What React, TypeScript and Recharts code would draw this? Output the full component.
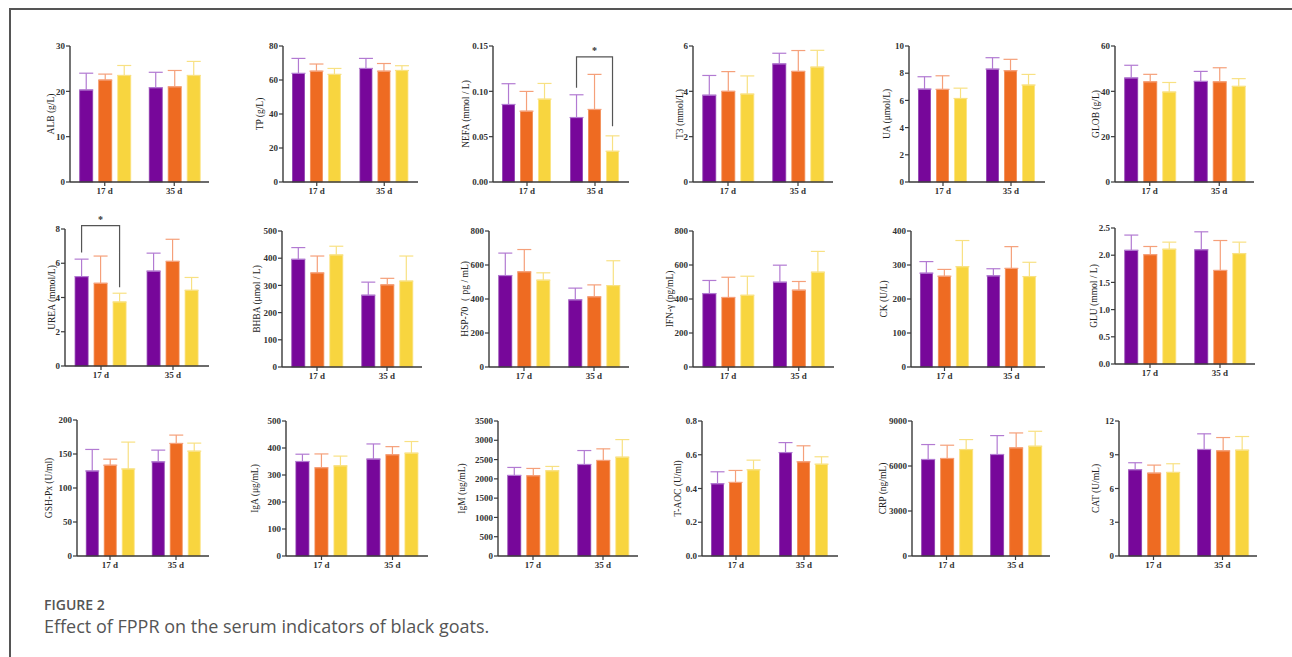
import React from "react";
import { Bar, BarChart, ErrorBar, XAxis, YAxis } from "recharts";

// Sampling days on the x axis
const DAYS = ["17 d", "35 d"];

// Values are [17 d: A, B, C, 35 d: A, B, C]; *_SD is the upper error (SD)
const ALB = [20.3, 22.5, 23.5, 20.8, 21.0, 23.5];
const ALB_SD = [3.7, 1.3, 2.2, 3.4, 3.6, 3.1];
const TP = [63.9, 65.2, 63.3, 66.8, 65.2, 65.6];
const TP_SD = [8.8, 4.2, 3.5, 5.9, 4.5, 2.8];
const NEFA = [0.0855, 0.0781, 0.0914, 0.0711, 0.08, 0.0339];
const NEFA_SD = [0.0229, 0.0218, 0.0173, 0.0251, 0.0387, 0.017];
const T3 = [3.83, 4.0, 3.88, 5.21, 4.88, 5.07];
const T3_SD = [0.87, 0.87, 0.8, 0.47, 0.92, 0.74];
const UA = [6.83, 6.81, 6.14, 8.3, 8.18, 7.13];
const UA_SD = [0.91, 1.0, 0.76, 0.84, 0.84, 0.78];
const GLOB = [45.9, 44.2, 39.7, 44.4, 44.2, 42.2];
const GLOB_SD = [5.6, 3.3, 4.2, 4.4, 6.2, 3.4];
const UREA = [5.22, 4.83, 3.74, 5.54, 6.11, 4.42];
const UREA_SD = [1.02, 1.59, 0.51, 1.05, 1.29, 0.75];
const BHBA = [396, 346, 412, 264, 302, 316];
const BHBA_SD = [43, 62, 32, 48, 24, 92];
const HSP70 = [538, 560, 511, 395, 413, 479];
const HSP70_SD = [132, 131, 43, 69, 70, 146];
const IFN = [432, 409, 422, 499, 452, 558];
const IFN_SD = [77, 119, 112, 100, 51, 122];
const CK = [276, 267, 295, 268, 290, 266];
const CK_SD = [34, 20, 77, 21, 64, 42];
const GLU = [2.09, 2.01, 2.11, 2.1, 1.72, 2.03];
const GLU_SD = [0.28, 0.15, 0.13, 0.33, 0.55, 0.21];
const GSH = [125, 133.5, 128, 138.4, 165.5, 154.2];
const GSH_SD = [31.7, 8.9, 39.5, 17.3, 12.3, 11.8];
const IGA = [350, 327, 334, 359, 375, 381];
const IGA_SD = [27, 51, 36, 56, 30, 43];
const IGM = [2090, 2081, 2210, 2373, 2477, 2563];
const IGM_SD = [206, 189, 112, 361, 301, 455];
const TAOC = [0.428, 0.436, 0.511, 0.613, 0.558, 0.544];
const TAOC_SD = [0.071, 0.071, 0.057, 0.059, 0.095, 0.044];
const CRP = [6435, 6501, 7098, 6767, 7209, 7320];
const CRP_SD = [995, 885, 664, 1260, 995, 995];
const CAT = [7.67, 7.37, 7.43, 9.47, 9.35, 9.41];
const CAT_SD = [0.62, 0.71, 0.77, 1.39, 1.18, 1.21];

// significance brackets (A vs C): bracket height, left leg end, right leg end
const NEFA_SIG = { day: "35 d", top: 0.138, left: 0.104, right: 0.0616 };
const UREA_SIG = { day: "17 d", top: 8.2, left: 6.63, right: 4.6 };

const COLORS = ["#77079a", "#ee6b22", "#f8d53f"];
const EDGES = ["#9040b0", "#f38a52", "#fbe27e"];
const ERR_COLORS = ["#b27ad2", "#f5a07a", "#f8e183"];
const AXIS = "#3a3a3a";
const FONT = "'Liberation Serif', 'Times New Roman', serif";

const AXIS_W = 60;
const TOP_PAD = 22;
const X_H = 22;
const RIGHT_PAD = 4;
const BAR_GAP = 6;

type Sig = { day: string; top: number; left: number; right: number };
type Panel = {
  label: string;
  mean: number[];
  sd: number[];
  ticks: number[];
  digits: number;
  sig?: Sig;
};

const PANELS: Panel[] = [
  { label: "ALB  (g/L)", mean: ALB, sd: ALB_SD, ticks: [0, 10, 20, 30], digits: 0 },
  { label: "TP (g/L)", mean: TP, sd: TP_SD, ticks: [0, 20, 40, 60, 80], digits: 0 },
  { label: "NEFA (mmol / L)", mean: NEFA, sd: NEFA_SD, ticks: [0, 0.05, 0.1, 0.15], digits: 2, sig: NEFA_SIG },
  { label: "T3 (mmol/L)", mean: T3, sd: T3_SD, ticks: [0, 2, 4, 6], digits: 0 },
  { label: "UA (μmol/L)", mean: UA, sd: UA_SD, ticks: [0, 2, 4, 6, 8, 10], digits: 0 },
  { label: "GLOB  (g/L)", mean: GLOB, sd: GLOB_SD, ticks: [0, 20, 40, 60], digits: 0 },
  { label: "UREA (mmol/L)", mean: UREA, sd: UREA_SD, ticks: [0, 2, 4, 6, 8], digits: 0, sig: UREA_SIG },
  { label: "BHBA (μmol / L)", mean: BHBA, sd: BHBA_SD, ticks: [0, 100, 200, 300, 400, 500], digits: 0 },
  { label: "HSP-70（ pg / mL)", mean: HSP70, sd: HSP70_SD, ticks: [0, 200, 400, 600, 800], digits: 0 },
  { label: "IFN-γ (pg/mL)", mean: IFN, sd: IFN_SD, ticks: [0, 200, 400, 600, 800], digits: 0 },
  { label: "CK (U/L)", mean: CK, sd: CK_SD, ticks: [0, 100, 200, 300, 400], digits: 0 },
  { label: "GLU (mmol / L)", mean: GLU, sd: GLU_SD, ticks: [0, 0.5, 1, 1.5, 2, 2.5], digits: 1 },
  { label: "GSH-Px (U/ml)", mean: GSH, sd: GSH_SD, ticks: [0, 50, 100, 150, 200], digits: 0 },
  { label: "IgA (μg/mL)", mean: IGA, sd: IGA_SD, ticks: [0, 100, 200, 300, 400, 500], digits: 0 },
  { label: "IgM (ug/mL)", mean: IGM, sd: IGM_SD, ticks: [0, 500, 1000, 1500, 2000, 2500, 3000, 3500], digits: 0 },
  { label: "T-AOC (U/ml)", mean: TAOC, sd: TAOC_SD, ticks: [0, 0.2, 0.4, 0.6, 0.8], digits: 1 },
  { label: "CRP (ng/mL)", mean: CRP, sd: CRP_SD, ticks: [0, 3000, 6000, 9000], digits: 0 },
  { label: "CAT (U/mL)", mean: CAT, sd: CAT_SD, ticks: [0, 3, 6, 9, 12], digits: 0 },
];

// plot box per panel: [axis x, axis end x, top y, bottom y, y-label distance]
const BOXES = [
  [70, 209, 46, 182, 19], [283, 418, 46, 182, 23], [493, 629, 46, 182, 27],
  [693, 833, 46, 182, 13], [909, 1045, 46, 182, 22], [1115, 1254, 46, 182, 19],
  [65, 209, 229, 366, 13], [282, 422, 231, 367, 25], [489, 629, 231, 367, 24],
  [693, 834, 231, 367, 23], [911, 1045, 231, 367, 27], [1115, 1255, 228, 364, 21],
  [77, 209, 420, 556, 28], [286, 428, 421, 556, 31], [498, 638, 421, 556, 36],
  [702, 838, 421, 556, 24], [912, 1050, 421, 556, 29], [1119, 1257, 421, 556, 23],
];

const TICK = { fontFamily: FONT, fontSize: 9, fontWeight: 700, fill: "#333" };

// first series' bar shape; also draws the A-vs-C bracket on its day
function barWithBracket(sig?: Sig) {
  return (props: any) => {
    const { x, y, width, height, fill, payload } = props;
    const rect = (
      <rect x={x} y={y} width={width} height={height} fill={fill} stroke={EDGES[0]} strokeWidth={0.8} />
    );
    if (!sig || !payload || payload.day !== sig.day || !height) return rect;
    const base = y + height;
    const k = height / payload.a;
    const py = (v: number) => base - v * k;
    const lx = x + width / 2;
    const rx = lx + 2 * (width + BAR_GAP);
    return (
      <g>
        {rect}
        <path
          d={`M${lx},${py(sig.left)}V${py(sig.top)}H${rx}V${py(sig.right)}`}
          fill="none"
          stroke="#555"
          strokeWidth={1.2}
        />
        <text x={(lx + rx) / 2} y={py(sig.top) - 3} textAnchor="middle" fontFamily={FONT} fontSize={10} fontWeight={700} fill="#333">
          *
        </text>
      </g>
    );
  };
}

function SmallChart({ p, box }: { p: Panel; box: number[] }) {
  const [x0, x1, y0, y1, labelGap] = box;
  const w = AXIS_W + (x1 - x0) + RIGHT_PAD;
  const h = TOP_PAD + (y1 - y0) + X_H;
  const data = DAYS.map((day, i) => ({
    day,
    a: p.mean[i * 3],
    b: p.mean[i * 3 + 1],
    c: p.mean[i * 3 + 2],
    aErr: [0, p.sd[i * 3]],
    bErr: [0, p.sd[i * 3 + 1]],
    cErr: [0, p.sd[i * 3 + 2]],
  }));
  const max = p.ticks[p.ticks.length - 1];

  return (
    <div style={{ position: "absolute", left: x0 - AXIS_W, top: y0 - TOP_PAD }}>
      <BarChart
        width={w}
        height={h}
        data={data}
        margin={{ top: TOP_PAD, right: RIGHT_PAD, left: 0, bottom: 0 }}
        barCategoryGap="14%"
        barGap={BAR_GAP}
      >
        <XAxis
          dataKey="day"
          height={X_H}
          tick={TICK}
          tickSize={4}
          tickLine={{ stroke: AXIS, strokeWidth: 1.2 }}
          axisLine={{ stroke: AXIS, strokeWidth: 1.4 }}
        />
        <YAxis
          width={AXIS_W}
          domain={[0, max]}
          ticks={p.ticks}
          interval={0}
          tick={TICK}
          tickSize={4}
          tickMargin={1}
          tickFormatter={(v: number) => v.toFixed(p.digits)}
          tickLine={{ stroke: AXIS, strokeWidth: 1.2 }}
          axisLine={{ stroke: AXIS, strokeWidth: 1.4 }}
          label={{
            value: p.label,
            angle: -90,
            position: "insideLeft",
            offset: AXIS_W - labelGap,
            style: { textAnchor: "middle", fontFamily: FONT, fontSize: 9.5, fill: "#222" },
          }}
        />
        <Bar dataKey="a" fill={COLORS[0]} isAnimationActive={false} shape={barWithBracket(p.sig)}>
          <ErrorBar dataKey="aErr" width={7} stroke={ERR_COLORS[0]} strokeWidth={1.2} isAnimationActive={false} />
        </Bar>
        <Bar dataKey="b" fill={COLORS[1]} stroke={EDGES[1]} strokeWidth={0.8} isAnimationActive={false}>
          <ErrorBar dataKey="bErr" width={7} stroke={ERR_COLORS[1]} strokeWidth={1.2} isAnimationActive={false} />
        </Bar>
        <Bar dataKey="c" fill={COLORS[2]} stroke={EDGES[2]} strokeWidth={0.8} isAnimationActive={false}>
          <ErrorBar dataKey="cErr" width={7} stroke={ERR_COLORS[2]} strokeWidth={1.2} isAnimationActive={false} />
        </Bar>
      </BarChart>
    </div>
  );
}

export default function App() {
  return (
    <div
      style={{
        position: "absolute",
        left: 0,
        top: 0,
        width: 1292,
        height: 657,
        background: "#fff",
        overflow: "hidden",
      }}
    >
      <div style={{ position: "absolute", left: 9, top: 8, width: 1283, height: 2, background: "#555" }} />
      <div style={{ position: "absolute", left: 9, top: 8, width: 2, height: 649, background: "#555" }} />
      {PANELS.map((p, i) => (
        <SmallChart key={p.label} p={p} box={BOXES[i]} />
      ))}
      <div
        style={{
          position: "absolute",
          left: 44,
          top: 595,
          fontFamily: "'Open Sans', sans-serif",
          fontSize: 14,
          fontWeight: 600,
          color: "#555",
        }}
      >
        FIGURE 2
      </div>
      <div
        style={{
          position: "absolute",
          left: 44,
          top: 614,
          fontFamily: "'Open Sans', sans-serif",
          fontSize: 18,
          fontWeight: 400,
          color: "#555",
        }}
      >
        Effect of FPPR on the serum indicators of black goats.
      </div>
    </div>
  );
}
